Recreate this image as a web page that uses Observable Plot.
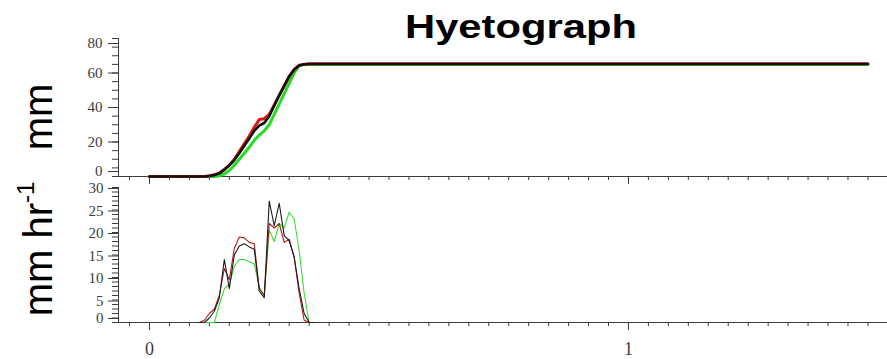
<!DOCTYPE html>
<html>
<head>
<meta charset="utf-8">
<script src="https://cdn.jsdelivr.net/npm/d3@7"></script>
<script src="https://cdn.jsdelivr.net/npm/@observablehq/plot@0.6"></script>
<style>
  body { margin: 0; background: #fff; }
  #wrap { position: relative; width: 887px; height: 359px; overflow: hidden; background: #fff; }
  .abs { position: absolute; }
  #title { left: 521px; top: 9px; font: bold 34px "Liberation Sans", Arial, sans-serif; line-height: 1; white-space: nowrap; color: #000; transform-origin: 0 0; }
  .ylab { font: 40px "Liberation Sans", Arial, sans-serif; color: #000; white-space: nowrap; transform: translate(-50%, -50%) rotate(-90deg); }
  .ylab sup { font-size: 0.6em; vertical-align: 0; position: relative; top: -0.75em; }
  svg { overflow: visible; }
</style>
</head>
<body>
<div id="wrap">
  <div id="title" class="abs">Hyetograph</div>
  <div id="lab1" class="abs ylab" style="left:38px; top:117px;">mm</div>
  <div id="lab2" class="abs ylab" style="left:38px; top:249px;">mm hr<sup>-1</sup></div>
  <div id="topPlot" class="abs" style="left:0; top:30px;"></div>
  <div id="botPlot" class="abs" style="left:0; top:180px;"></div>
</div>
<script>
// ---- data (time in hours since start; x axis labelled in days) ----
const rateHours = [2.5, 2.75, 3, 3.25, 3.5, 3.75, 4, 4.25, 4.5, 4.75, 5, 5.25, 5.5, 5.75, 6, 6.25, 6.5, 6.75, 7, 7.25, 7.5, 7.75, 8, 8.25];
const blackRate = [0, 0, 1.0, 2.5, 5.5, 14.0, 7.5, 15.0, 17.0, 17.5, 16.8, 16.3, 7.0, 5.5, 27.0, 21.5, 26.5, 19.3, 18.2, 14.5, 7.5, 2.0, 0, 0];
const redRate   = [0, 0.5, 2.0, 3.0, 6.0, 12.0, 9.5, 16.5, 19.0, 18.8, 17.8, 17.5, 7.5, 6.0, 22.0, 21.0, 22.0, 17.8, 18.5, 14.5, 6.5, 0.5, 0, 0];
const greenRate = [0, 0, 0, 0, 4.0, 7.5, 8.5, 12.5, 14.0, 14.0, 13.5, 13.0, 8.0, 6.0, 20.5, 18.0, 22.0, 21.0, 24.5, 23.0, 16.0, 6.5, 0, 0];

const cumHours  = [0, 2.75, 3, 3.25, 3.5, 3.75, 4, 4.25, 4.5, 4.75, 5, 5.25, 5.5, 5.75, 6, 6.25, 6.5, 6.75, 7, 7.25, 7.5, 7.75, 8, 36];
const blackCum  = [0, 0, 0.3, 0.8, 1.8, 4.0, 6.5, 9.5, 13.5, 17.8, 22.0, 26.5, 29.5, 31.0, 35.0, 41.0, 47.0, 52.5, 58.0, 62.0, 64.3, 65.0, 65.2, 65.2];
const redCum    = [0, 0, 0.4, 1.0, 2.0, 4.0, 6.5, 10.0, 14.5, 19.0, 23.5, 28.5, 33.0, 33.5, 36.0, 41.5, 47.0, 52.5, 58.0, 62.0, 64.5, 65.0, 65.3, 65.3];
const greenCum  = [0, 0, 0, 0, 0.3, 1.5, 3.5, 6.5, 10.0, 13.5, 17.0, 21.0, 24.0, 26.5, 30.0, 36.0, 42.0, 48.0, 54.0, 60.0, 64.3, 65.0, 65.0, 65.0];

const xMajorHours = [0, 24];          // labelled 0 and 1 (days)
const xMinorHours = d3.range(-1, 37); // hourly ticks
const topYTicksMid = [20, 40, 60];
const topYTickLow = [0];
const topYTickHigh = [80];
const topYMinor = d3.range(0, 81, 5);
const botYTicksMid = [5, 10, 15, 20, 25, 30];
const botYTickLow = [0];
const botYMinor = d3.range(0, 31, 1);

const colors = { black: "#111111", red: "#e01515", green: "#22dd22" };
const rateColors = { black: "#1a1a1a", red: "#b01c1c", green: "#3ddc3d" };

const xDomain = [-1.553, 36.98];
const axisColor = "#3c3c3c";
const tickFont = "Liberation Serif, Times New Roman, serif";

const cumRows = (vals) => cumHours.map((h, i) => ({h, v: vals[i]}));
const rateRows = (vals) => rateHours.map((h, i) => ({h, v: vals[i]}));

const yLabelOpts = {tickSize: 10, tickPadding: 6, fontSize: 15, fontFamily: tickFont, label: null, color: axisColor};

const topChart = Plot.plot({
  width: 887, height: 160,
  marginLeft: 118, marginRight: 0, marginTop: 8, marginBottom: 14,
  x: {domain: xDomain},
  y: {domain: [0, 80]},
  style: {background: "transparent", overflow: "visible"},
  marks: [
    Plot.axisY(topYMinor, {tickSize: 6, tickFormat: () => "", label: null, color: axisColor}),
    Plot.axisY(topYTicksMid, yLabelOpts),
    Plot.axisY(topYTickLow, {...yLabelOpts, dy: -5}),
    Plot.axisY(topYTickHigh, {...yLabelOpts, dy: 5}),
    Plot.axisX(xMinorHours, {tickSize: 4, tickFormat: () => "", label: null, color: axisColor}),
    Plot.axisX(xMajorHours, {tickSize: 8, tickFormat: () => "", label: null, color: axisColor}),
    Plot.ruleX([xDomain[0]], {stroke: axisColor}),
    Plot.ruleY([0], {stroke: axisColor}),
    Plot.line(cumRows(greenCum), {x: "h", y: "v", stroke: colors.green, strokeWidth: 3}),
    Plot.line(cumRows(redCum), {x: "h", y: "v", stroke: colors.red, strokeWidth: 3}),
    Plot.line(cumRows(blackCum), {x: "h", y: "v", stroke: colors.black, strokeWidth: 2.6})
  ]
});
document.getElementById("topPlot").appendChild(topChart);

const botChart = Plot.plot({
  width: 887, height: 179,
  marginLeft: 118, marginRight: 0, marginTop: 7, marginBottom: 37,
  x: {domain: xDomain},
  y: {domain: [0, 30]},
  style: {background: "transparent", overflow: "visible"},
  marks: [
    Plot.axisY(botYMinor, {tickSize: 6, tickFormat: () => "", label: null, color: axisColor}),
    Plot.axisY(botYTicksMid, {...yLabelOpts, tickPadding: 5, dy: 1}),
    Plot.axisY(botYTickLow, {...yLabelOpts, tickPadding: 5, dy: -4}),
    Plot.axisX(xMinorHours, {tickSize: 4, tickFormat: () => "", label: null, color: axisColor}),
    Plot.axisX(xMajorHours, {tickSize: 8, tickPadding: 12, fontSize: 18, fontFamily: tickFont, tickFormat: d => String(d / 24), label: null, color: axisColor}),
    Plot.ruleX([xDomain[0]], {stroke: axisColor}),
    Plot.ruleY([0], {stroke: axisColor}),
    Plot.line(rateRows(greenRate), {x: "h", y: "v", stroke: rateColors.green, strokeWidth: 1.1}),
    Plot.line(rateRows(redRate), {x: "h", y: "v", stroke: rateColors.red, strokeWidth: 1.1}),
    Plot.line(rateRows(blackRate), {x: "h", y: "v", stroke: rateColors.black, strokeWidth: 1.1})
  ]
});
document.getElementById("botPlot").appendChild(botChart);

// fit the title to the reference width, centred on x = 521
const t = document.getElementById("title");
const w = t.getBoundingClientRect().width;
const s = 232 / w;
t.style.transform = `translateX(${-116}px) scaleX(${s})`;
</script>
</body>
</html>
